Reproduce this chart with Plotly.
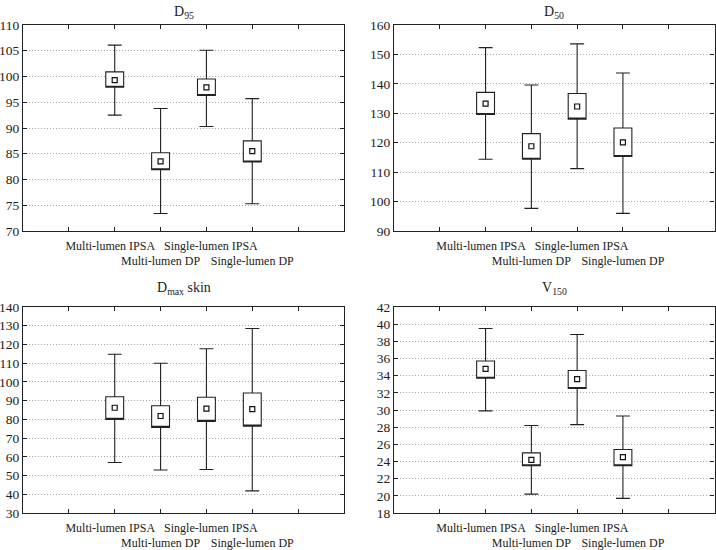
import plotly.graph_objects as go
from plotly.subplots import make_subplots

categories = ["Multi-lumen IPSA", "Multi-lumen DP", "Single-lumen IPSA", "Single-lumen DP"]
cat_pos = [2, 3, 4, 5]

# D95
d95_mean = [99.3, 83.5, 97.9, 85.5]
d95_box_lo = [97.9, 81.9, 96.3, 83.4]
d95_box_hi = [100.9, 85.2, 99.5, 87.5]
d95_wh_lo = [92.5, 73.4, 90.3, 75.3]
d95_wh_hi = [106.1, 93.8, 105.1, 95.7]

# D50
d50_mean = [133.3, 118.8, 132.3, 120.1]
d50_box_lo = [129.6, 114.4, 128.0, 115.3]
d50_box_hi = [137.1, 123.1, 136.7, 125.0]
d50_wh_lo = [114.4, 97.7, 111.2, 96.0]
d50_wh_hi = [152.3, 139.6, 153.6, 143.7]

# Dmax skin
dmax_mean = [86.2, 81.8, 85.7, 85.5]
dmax_box_lo = [80.0, 75.7, 78.9, 76.4]
dmax_box_hi = [92.1, 87.3, 91.8, 94.1]
dmax_wh_lo = [57.0, 53.0, 53.2, 41.8]
dmax_wh_hi = [114.8, 110.0, 117.7, 128.5]

# V150
v150_mean = [34.8, 24.2, 33.6, 24.5]
v150_box_lo = [33.7, 23.5, 32.5, 23.5]
v150_box_hi = [35.7, 25.0, 34.6, 25.4]
v150_wh_lo = [29.9, 20.2, 28.3, 19.7]
v150_wh_hi = [39.5, 28.2, 38.8, 29.3]

titles = ["D<sub>95</sub>", "D<sub>50</sub>", "D<sub>max</sub> skin", "V<sub>150</sub>"]
y_ranges = [[70, 110], [90, 160], [30, 140], [18, 42]]
y_dticks = [5, 10, 10, 2]

panels = [
    (d95_mean, d95_box_lo, d95_box_hi, d95_wh_lo, d95_wh_hi),
    (d50_mean, d50_box_lo, d50_box_hi, d50_wh_lo, d50_wh_hi),
    (dmax_mean, dmax_box_lo, dmax_box_hi, dmax_wh_lo, dmax_wh_hi),
    (v150_mean, v150_box_lo, v150_box_hi, v150_wh_lo, v150_wh_hi),
]

W, H = 716, 550
FONT = "Liberation Serif"
NB = "\u00a0"


def fx(px):
    return px / W


def fy(py):
    return 1 - py / H


fig = make_subplots(rows=2, cols=2)

xdom = [[fx(23), fx(344)], [fx(394), fx(714.5)]]
ydom = [[fy(231), fy(25)], [fy(513), fy(307)]]

tickvals = [1, 2, 3, 4, 5, 6]
ticktext = [
    "",
    categories[0] + NB * 3,
    "<br>" + categories[1],
    NB * 3 + categories[2],
    "<br>" + categories[3],
    "",
]

for i, (mean, blo, bhi, wlo, whi) in enumerate(panels):
    r, c = i // 2 + 1, i % 2 + 1
    fig.add_trace(go.Box(
        x=cat_pos, q1=blo, median=blo, q3=bhi, lowerfence=wlo, upperfence=whi,
        width=0.39, whiskerwidth=0.78, fillcolor="white",
        line=dict(color="#222222", width=1.1), boxpoints=False,
        hoverinfo="skip", showlegend=False,
    ), row=r, col=c)
    fig.add_trace(go.Scatter(
        x=cat_pos, y=mean, mode="markers",
        marker=dict(symbol="square-open", size=5, color="#111111", line=dict(width=1.2)),
        showlegend=False, hoverinfo="skip",
    ), row=r, col=c)
    ax = "" if i == 0 else str(i + 1)
    fig.layout["xaxis" + ax].update(
        domain=xdom[c - 1], range=[0, 7], tickmode="array", tickvals=tickvals, ticktext=ticktext,
        tickangle=0, ticklabelstandoff=3,
        showline=True, mirror="ticks", linecolor="#222222", linewidth=1.2,
        ticks="inside", ticklen=4, tickcolor="#222222", showgrid=False, zeroline=False,
        tickfont=dict(family=FONT, size=12, color="#222222"), automargin=False,
    )
    fig.layout["yaxis" + ax].update(
        domain=ydom[r - 1], range=y_ranges[i], dtick=y_dticks[i], tick0=0,
        showline=True, mirror="ticks", linecolor="#222222", linewidth=1.2,
        ticks="inside", ticklen=4, tickcolor="#222222",
        showgrid=True, gridcolor="#aaaaaa", griddash="1px,2px", gridwidth=1, zeroline=False,
        tickfont=dict(family=FONT, size=13.5, color="#222222"), automargin=False,
    )
    xc = (xdom[c - 1][0] + xdom[c - 1][1]) / 2
    yt = fy(12) if r == 1 else fy(288)
    fig.add_annotation(
        text=titles[i], x=xc, y=yt, xref="paper", yref="paper", showarrow=False,
        font=dict(family=FONT, size=14, color="#222222"), xanchor="center", yanchor="middle",
    )

fig.update_layout(
    width=W, height=H, margin=dict(l=0, r=0, t=0, b=0),
    paper_bgcolor="white", plot_bgcolor="white",
    font=dict(family=FONT, color="#222222"),
)

fig.write_html(
    "out.html",
    config={"displayModeBar": False},
    post_script="document.body.style.margin='0';document.body.style.overflow='hidden';",
)
